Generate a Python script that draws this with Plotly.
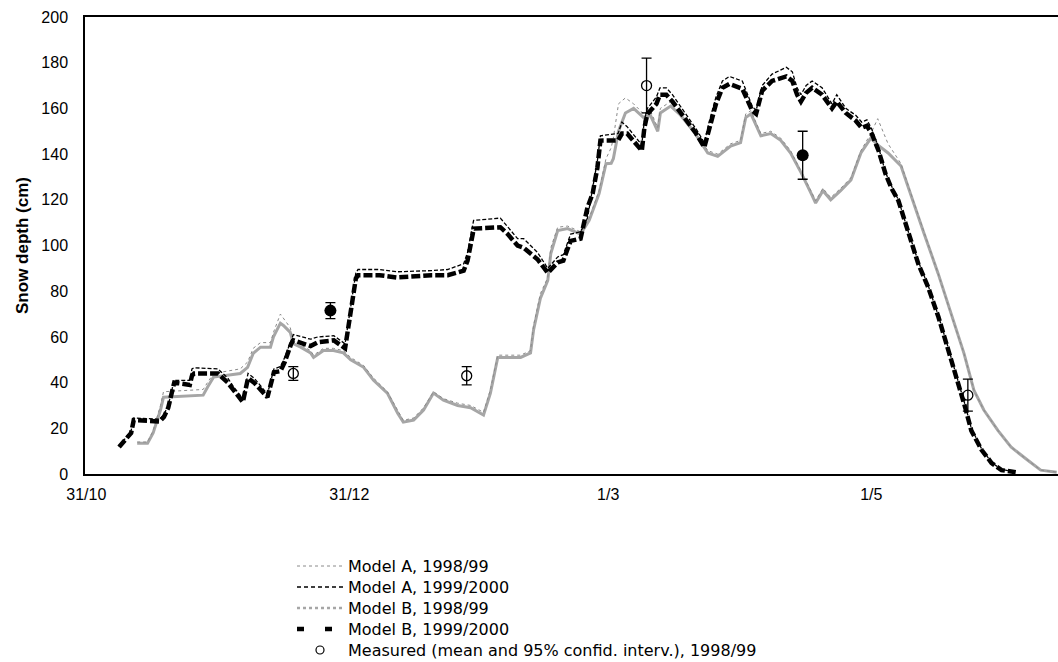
import plotly.graph_objects as go

# ---- tick labels ----
x_tickvals = [0, 61, 121, 182]
x_ticktext = ["31/10", "31/12", "1/3", "1/5"]
y_tickvals = [0, 20, 40, 60, 80, 100, 120, 140, 160, 180, 200]

# ---- Model B, 1999/2000 (thick black dashed) ----
b9900_day = [7.6, 10.4, 11, 17, 18, 19, 20, 20.4, 24, 24.5, 25, 30.5, 32.8, 34.2, 36.3, 37.5, 38.9, 42,
             43.5, 45, 46, 47.5, 48, 52, 53.7, 57.4, 60, 62.5, 63, 68, 72, 80, 83.8, 87.5, 88.4, 89.6,
             89.8, 96, 97.7, 100, 101.4, 104.6, 107, 109.3, 110.6, 111.5, 112.3, 114.6, 116.2, 117.4,
             118.5, 119.2, 123.3, 124.2, 125.4, 128.8, 129.4, 130.1, 132.2, 133, 134.5, 135.9, 139.1,
             141.4, 143.3, 144.4, 146, 147.5, 149.1, 152.1, 154.4, 155.3, 156.7, 159, 162.3, 163.7,
             164.8, 165.7, 166.9, 168.3, 170.6, 172.9, 174, 176.1, 178.4, 179.8, 181, 182.1, 183.7,
             185.3, 186.7, 188.3, 190.6, 192.9, 195.2, 197.6, 199.9, 202.2, 203.8, 205.2, 207.6, 209.9,
             212.2, 215.5]
b9900_val = [11.8, 18, 23.6, 23, 25, 29, 37, 40, 39, 43, 44, 44, 40, 36.7, 31.5, 42, 40, 33.6,
             44.5, 45, 49, 57, 58.5, 56, 57.7, 58.5, 55, 85.6, 87, 87, 86, 87, 87, 89, 93.4, 105,
             107.4, 108, 105, 100, 99, 94, 88, 92.6, 93.4, 98, 102, 103, 116.6, 122.7,
             134, 145.9, 146, 149, 149, 141.5, 151.5, 157.6, 162, 166, 166, 163, 154.6,
             149, 143, 151.5, 162, 169, 170.7, 168.6, 159, 157.6, 167.7, 172, 174, 172,
             166, 163, 166.8, 169, 166, 160, 163, 158, 154.6, 151.5, 152.4, 149, 141.5,
             131.4, 125, 119.6, 105, 92, 81.7, 68.6, 54, 39.7, 29, 19, 10.5, 4.8,
             1.7, 0.8]

# ---- Model A, 1999/2000 (thin black dashed) ----
a9900_day = b9900_day
a9900_val = [12, 19, 24.5, 24, 26, 30, 38, 41, 41, 46, 46.5, 46, 42, 38, 33, 44, 42, 35,
             46, 47, 51, 59, 61, 59, 60, 60.5, 57, 88, 89.5, 89.5, 88.5, 89, 89.5, 92, 97, 109,
             111, 112, 108, 103, 103, 97, 90, 95, 96, 101, 105, 106, 112, 125,
             137, 148, 149, 154, 152, 144, 155, 160, 165, 169, 169, 166, 157,
             151, 145, 154, 165, 172, 174, 172, 161, 159, 170, 175, 178, 176,
             169, 166, 170, 172, 169, 162, 166, 160, 157, 154, 155, 151, 143,
             132, 126, 120, 106, 93, 82.5, 69, 55, 40.5, 30, 20, 11, 5,
             2, 0.8]

# ---- Model B, 1998/99 (thick grey) ----
b9899_day = [11.8, 14.2, 15.5, 17.2, 17.9, 27.1, 28.1, 29.5, 35.7, 37.4, 38.7, 40.4, 42.7, 43.4, 45,
             45.7, 47.3, 48, 49.7, 52, 52.7, 55, 57.3, 59.6, 61.3, 64.3, 66.6, 69.8, 72.2, 73.5, 75.9,
             78.2, 80.5, 82.8, 86.1, 89.1, 92.1, 93.7, 95.4, 100.7, 103, 103.7, 105.3, 107, 107.7,
             109.3, 111.6, 114.6, 116.6, 118.9, 120.5, 121.7, 122.2, 123.4, 125, 126.9, 129.2, 130.8,
             132.5, 133.1, 135.5, 137.8, 140.8, 144.1, 146.4, 149.4, 151.7, 152.9, 154.1, 156.4, 158.7,
             161, 163.3, 165.7, 168, 169.1, 170.8, 172.6, 174.9, 177.3, 179.6, 181.9, 183.5, 185.9,
             188.9, 191.2, 194.2, 197.5, 200.5, 203.5, 205.8, 208.1, 211.4, 214.4, 218.3, 221.3, 225]
b9899_val = [13.5, 13.5, 18, 28, 33.6, 34.5, 38, 42.4, 44, 46.7, 52.8, 55.5, 55.5, 60, 66,
             65, 62, 57, 55.5, 53, 51, 54, 54, 53, 50, 46.7, 41, 35.4, 26.6, 22.7, 23.6,
             28, 35.4, 32.3, 30, 29, 25.8, 35.4, 51, 51, 53, 63, 77, 84.7, 96.5,
             106.5, 107.4, 105, 111, 122.7, 135.8, 136, 138, 150, 158, 160, 156, 157,
             150, 158, 161, 157, 150, 140.5, 139, 143.5, 145, 156, 157.6, 148, 149,
             146, 140.5, 132, 123, 118.6, 124, 120, 124, 128.7, 140.5, 147, 144, 140.5,
             134.8, 121.7, 105.5, 87.8, 70, 52.8, 36.7, 28, 19, 11.8, 6, 1.7, 0.8]

# ---- Model A, 1998/99 (thin grey dotted) ----
a9899_day = b9899_day
a9899_val = [14, 14, 19, 30, 36, 37, 40, 44, 46, 49, 55, 57.5, 57.5, 62, 70,
             68, 64, 58, 56.5, 54, 52, 55, 55, 54, 51, 47.5, 42, 36, 27.5, 23.5, 24.5,
             29, 36, 33, 31, 30, 27, 37, 52, 52, 54, 65, 79, 86, 99,
             108, 108.5, 106, 112, 124, 138, 142.8, 147, 162, 164.6, 162, 157.6, 159,
             151.5, 160, 163, 159, 151.5, 141.5, 140, 144.5, 146, 157.6, 159, 149, 150,
             147, 141.5, 132.8, 124, 119.6, 125, 121, 125, 129.7, 141.5, 149, 155.5, 144.5,
             135.8, 122.7, 106.5, 87.8, 70, 52.8, 36.7, 28, 19, 11.8, 6, 1.7, 0.8]

# ---- Measured ----
meas9899_day = [48.0, 88.2, 129.9, 204.4]
meas9899_val = [44, 43, 170, 34.5]
meas9899_err = [3, 4, 12, 7]
meas9900_day = [56.6, 166.1]
meas9900_val = [71.5, 139.5]
meas9900_err = [3.5, 10.5]

legend_labels = ["Model A, 1998/99", "Model A, 1999/2000", "Model B, 1998/99",
                 "Model B, 1999/2000", "Measured (mean and 95% confid. interv.), 1998/99"]

FONT = "Liberation Sans, Arial, sans-serif"
LEGEND_FONT = "DejaVu Sans, Liberation Sans, sans-serif"

fig = go.Figure()
fig.add_trace(go.Scatter(x=b9899_day, y=b9899_val, mode="lines", name=legend_labels[2],
                         line=dict(color="#a6a6a6", width=3)))
fig.add_trace(go.Scatter(x=a9899_day, y=a9899_val, mode="lines", name=legend_labels[0],
                         line=dict(color="#8a8a8a", width=1, dash="dot")))
fig.add_trace(go.Scatter(x=a9900_day, y=a9900_val, mode="lines", name=legend_labels[1],
                         line=dict(color="black", width=1.3, dash="4px,2px")))
fig.add_trace(go.Scatter(x=b9900_day, y=b9900_val, mode="lines", name=legend_labels[3],
                         line=dict(color="black", width=4.5, dash="9px,3px")))
fig.add_trace(go.Scatter(x=meas9899_day, y=meas9899_val, mode="markers", name=legend_labels[4],
                         marker=dict(symbol="circle-open", size=10, color="black", line=dict(width=1.3)),
                         error_y=dict(type="data", array=meas9899_err, color="black", thickness=1.3, width=5)))
fig.add_trace(go.Scatter(x=meas9900_day, y=meas9900_val, mode="markers", name="Measured, 1999/2000",
                         marker=dict(symbol="circle", size=12, color="black"),
                         error_y=dict(type="data", array=meas9900_err, color="black", thickness=1.3, width=5)))

# ---- manual legend (tight line spacing as in the reference) ----
L, R, T, B = 85, 1058, 17, 474
def px(xp):
    return (xp - L) / (R - L)
def py(yp):
    return (B - yp) / (B - T)

rows = [566, 587, 608, 629, 650]
styles = [dict(color="#8a8a8a", width=1, dash="dot"),
          dict(color="black", width=1.3, dash="4px,3px"),
          dict(color="#a6a6a6", width=2.5, dash="dot"),
          dict(color="black", width=4.5, dash="7px,21px")]
shapes = []
for i, st in enumerate(styles):
    shapes.append(dict(type="line", xref="paper", yref="paper", x0=px(297), x1=px(345),
                       y0=py(rows[i]), y1=py(rows[i]), line=st))
shapes.append(dict(type="circle", xref="paper", yref="paper", xsizemode="pixel", ysizemode="pixel",
                   xanchor=px(320), yanchor=py(rows[4]), x0=-4, x1=4, y0=-4, y1=4,
                   line=dict(color="black", width=1.2)))
annotations = []
for i, lab in enumerate(legend_labels):
    annotations.append(dict(text=lab, xref="paper", yref="paper", x=px(347), y=py(rows[i]),
                            xanchor="left", yanchor="middle", showarrow=False, borderpad=0,
                            font=dict(family=LEGEND_FONT, size=16, color="black")))

fig.update_layout(
    width=1058, height=662,
    margin=dict(l=85, r=0, t=17, b=188),
    paper_bgcolor="white", plot_bgcolor="white",
    showlegend=False,
    shapes=shapes, annotations=annotations,
    font=dict(family=FONT, color="black"),
    xaxis=dict(range=[-0.3, 225.3], tickvals=x_tickvals, ticktext=x_ticktext,
               showgrid=False, zeroline=False, showline=True, linecolor="black", linewidth=1.5,
               mirror=True, ticks="", tickfont=dict(size=16), ticklabelstandoff=5),
    yaxis=dict(range=[0, 200], tickvals=y_tickvals, showgrid=False, zeroline=False,
               showline=True, linecolor="black", linewidth=1.5, ticks="",
               tickfont=dict(size=16), ticklabelstandoff=12,
               title=dict(text="<b>Snow depth (cm)</b>", font=dict(size=17), standoff=8)),
)

fig.write_html("out.html")
